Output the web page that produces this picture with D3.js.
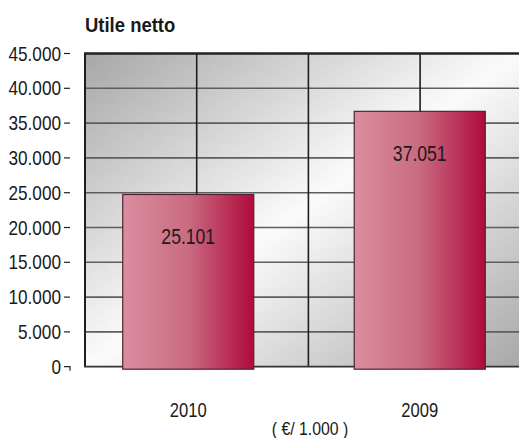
<!DOCTYPE html>
<html>
<head>
<meta charset="utf-8">
<script src="https://cdn.jsdelivr.net/npm/d3@7"></script>
<style>
  body { margin: 0; background: #fff; }
  text { font-family: "Liberation Sans", Arial, sans-serif; fill: #1a1a1a; }
</style>
</head>
<body>
<div id="chart"></div>
<script>
// data
var years = ["2010", "2009"];
var utile = [25101, 37051];
var yTicks = [0, 5000, 10000, 15000, 20000, 25000, 30000, 35000, 40000, 45000];
var title = "Utile netto";
var unitLabel = "( €/ 1.000 )";

var width = 519, height = 438;
var plot = { left: 85, right: 519, top: 53.5, bottom: 366.7 };

var it = d3.formatLocale({ decimal: ",", thousands: ".", grouping: [3], currency: ["€", ""] });
var fmt = it.format(",d");

// the original uses a condensed face: squeeze Liberation Sans horizontally
function squeeze(sx) {
    return function (x, y) { return "translate(" + x + "," + y + ") scale(" + sx + ",1)"; };
}

var svg = d3.select("#chart").append("svg")
    .attr("width", width)
    .attr("height", height);

var defs = svg.append("defs");
// plot background: grey -> white -> grey on the diagonal
var bg = defs.append("linearGradient").attr("id", "bg-grad")
    .attr("x1", 0).attr("y1", 0).attr("x2", 1).attr("y2", 1);
bg.append("stop").attr("offset", 0).attr("stop-color", "#a7a7a7");
bg.append("stop").attr("offset", 0.5).attr("stop-color", "#fbfbfb");
bg.append("stop").attr("offset", 1).attr("stop-color", "#a8a8a8");
// bar fill, light pink on the left to crimson on the right
var barGrad = defs.append("linearGradient").attr("id", "bar-grad")
    .attr("x1", 0).attr("y1", 0).attr("x2", 1).attr("y2", 0);
barGrad.append("stop").attr("offset", 0).attr("stop-color", "#db8d9f");
barGrad.append("stop").attr("offset", 0.5).attr("stop-color", "#c96b81");
barGrad.append("stop").attr("offset", 1).attr("stop-color", "#b00a3b");

var y = d3.scaleLinear().domain([0, 45000]).range([plot.bottom, plot.top]);
var x = d3.scaleBand().domain(years)
    .range([plot.left, 523])
    .paddingInner(0.434)
    .paddingOuter(0.163);
// vertical grid: 4 equal columns starting at the left edge
var gx = d3.scaleLinear().domain([0, 4]).range([plot.left, plot.left + 4 * 111.7]);

// title
var tTitle = squeeze(0.88);
svg.append("text")
    .attr("transform", tTitle(plot.left, 32))
    .style("font-weight", "bold")
    .style("font-size", "21px")
    .text(title);

// background
svg.append("rect")
    .attr("x", plot.left)
    .attr("y", plot.top)
    .attr("width", plot.right - plot.left)
    .attr("height", plot.bottom - plot.top)
    .attr("fill", "url(#bg-grad)");

// horizontal grid lines
svg.append("g").classed("h-grid", true)
    .selectAll("line")
    .data(yTicks.filter(function (d) { return d > 0 && d < 45000; }))
    .enter().append("line")
    .attr("x1", plot.left)
    .attr("x2", plot.right)
    .attr("y1", function (d) { return y(d); })
    .attr("y2", function (d) { return y(d); })
    .attr("stroke", "#5e5e5e")
    .attr("stroke-width", 1.6);

// vertical grid lines
svg.append("g").classed("v-grid", true)
    .selectAll("line")
    .data([0, 1, 2, 3])
    .enter().append("line")
    .attr("x1", function (d) { return gx(d); })
    .attr("x2", function (d) { return gx(d); })
    .attr("y1", plot.top)
    .attr("y2", plot.bottom)
    .attr("stroke", "#1e1e1e")
    .attr("stroke-width", function (d) { return d === 0 ? 2 : 1.6; });

// top border and baseline
svg.append("line")
    .attr("x1", plot.left - 1).attr("x2", plot.right)
    .attr("y1", y(45000)).attr("y2", y(45000))
    .attr("stroke", "#222").attr("stroke-width", 2.6);
svg.append("line")
    .attr("x1", plot.left - 1).attr("x2", plot.right)
    .attr("y1", y(0)).attr("y2", y(0))
    .attr("stroke", "#333").attr("stroke-width", 1.8);

// y axis ticks + labels
var tTick = squeeze(0.86);
var ticks = svg.append("g").classed("y-axis", true)
    .selectAll("g")
    .data(yTicks)
    .enter().append("g")
    .attr("transform", function (d) { return "translate(0," + y(d) + ")"; });
ticks.append("path")
    .attr("d", function (d) { return d === 0 ? "M64,0H70V4" : "M64,0H70"; })
    .attr("fill", "none")
    .attr("stroke", "#222")
    .attr("stroke-width", 1.2);
ticks.append("text")
    .attr("transform", tTick(61, 7))
    .attr("text-anchor", "end")
    .style("font-size", "20px")
    .text(function (d) { return fmt(d); });

// bars (drawn slightly below the baseline, as in the original)
var tVal = squeeze(0.8);
var bars = svg.append("g").classed("bars", true)
    .attr("transform", "translate(0,2.5)");
bars.selectAll("rect")
    .data(utile)
    .enter().append("rect")
    .attr("x", function (d, i) { return x(years[i]); })
    .attr("width", x.bandwidth())
    .attr("y", function (d) { return y(d); })
    .attr("height", function (d) { return y(0) - y(d); })
    .attr("fill", "url(#bar-grad)")
    .attr("stroke", "#4e2434")
    .attr("stroke-width", 1.2);
bars.selectAll("text")
    .data(utile)
    .enter().append("text")
    .attr("transform", function (d, i) { return tVal(x(years[i]) + x.bandwidth() / 2, y(d) + 50); })
    .attr("text-anchor", "middle")
    .style("font-size", "22px")
    .text(function (d) { return fmt(d); });

// category labels
var tCat = squeeze(0.83);
svg.append("g").classed("x-axis", true)
    .selectAll("text")
    .data(years)
    .enter().append("text")
    .attr("transform", function (d) { return tCat(x(d) + x.bandwidth() / 2, 416.5); })
    .attr("text-anchor", "middle")
    .style("font-size", "20px")
    .text(function (d) { return d; });

var tUnit = squeeze(0.88);
svg.append("text")
    .attr("transform", tUnit(310, 435))
    .attr("text-anchor", "middle")
    .style("font-size", "18px")
    .text(unitLabel);
</script>
</body>
</html>
